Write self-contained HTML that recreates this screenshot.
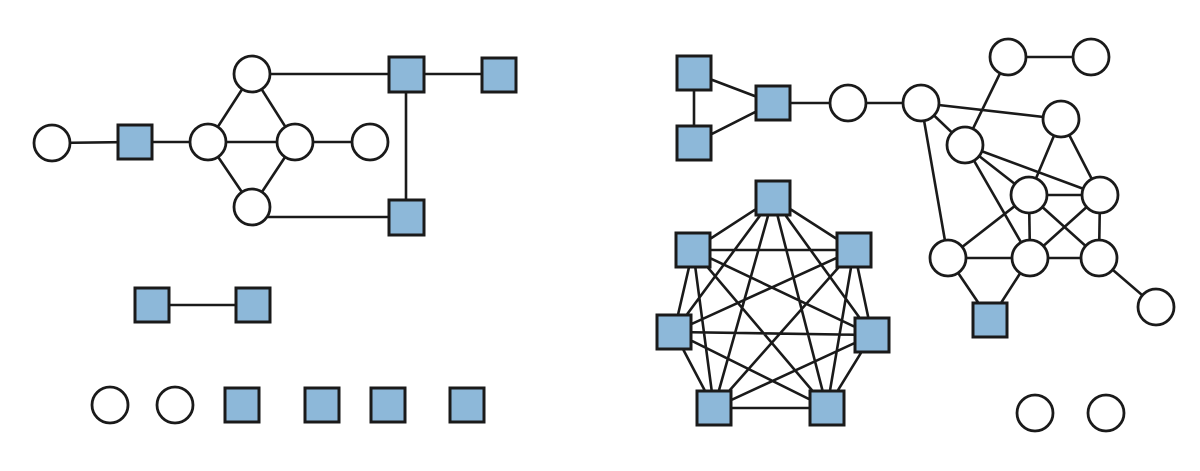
<!DOCTYPE html>
<html><head><style>html,body{margin:0;padding:0;background:#fff}svg{display:block}</style></head><body>
<svg width="1200" height="471" viewBox="0 0 1200 471" xmlns="http://www.w3.org/2000/svg">
<g stroke="#1a1a1a" stroke-width="2.6" fill="none">
<line x1="52" y1="143" x2="135" y2="142"/><line x1="135" y1="142" x2="208" y2="142"/>
<line x1="208" y1="142" x2="252" y2="74"/><line x1="208" y1="142" x2="252" y2="207"/>
<line x1="208" y1="142" x2="295" y2="142"/><line x1="252" y1="74" x2="295" y2="142"/>
<line x1="252" y1="207" x2="295" y2="142"/><line x1="295" y1="142" x2="370" y2="142"/>
<line x1="252" y1="74" x2="406" y2="74"/><line x1="406" y1="74" x2="499" y2="74"/>
<line x1="406" y1="74" x2="406" y2="217"/><line x1="262" y1="217" x2="406" y2="217"/>
<line x1="152" y1="305" x2="253" y2="305"/>
<line x1="694" y1="73" x2="694" y2="143"/><line x1="694" y1="73" x2="773" y2="103"/>
<line x1="694" y1="143" x2="773" y2="103"/><line x1="773" y1="103" x2="921" y2="103"/>
<line x1="1008" y1="57" x2="1091" y2="57"/>
<line x1="921" y1="103" x2="1061" y2="119"/><line x1="921" y1="103" x2="965" y2="145"/>
<line x1="921" y1="103" x2="948" y2="258"/><line x1="1008" y1="57" x2="965" y2="145"/>
<line x1="965" y1="145" x2="1029" y2="195"/><line x1="965" y1="145" x2="1100" y2="195"/>
<line x1="965" y1="145" x2="1030" y2="258"/><line x1="1061" y1="119" x2="1029" y2="195"/>
<line x1="1061" y1="119" x2="1100" y2="195"/><line x1="1029" y1="195" x2="1100" y2="195"/>
<line x1="1029" y1="195" x2="948" y2="258"/><line x1="1029" y1="195" x2="1030" y2="258"/>
<line x1="1029" y1="195" x2="1099" y2="258"/><line x1="1100" y1="195" x2="1030" y2="258"/>
<line x1="1100" y1="195" x2="1099" y2="258"/><line x1="948" y1="258" x2="1030" y2="258"/>
<line x1="1030" y1="258" x2="1099" y2="258"/><line x1="1099" y1="258" x2="1156" y2="307"/>
<line x1="948" y1="258" x2="990" y2="320"/><line x1="1030" y1="258" x2="990" y2="320"/>
<path d="M773 198L693 250M773 198L854 250M773 198L674 332M773 198L872 335M773 198L714 408M773 198L827 408
M693 250L854 250M693 250L674 332M693 250L872 335M693 250L714 408M693 250L827 408
M854 250L674 332M854 250L872 335M854 250L714 408M854 250L827 408
M674 332L872 335M674 332L714 408M674 332L827 408
M872 335L714 408M872 335L827 408M714 408L827 408"/>
</g>
<g stroke="#1a1a1a" stroke-width="2.8" fill="#fff">
<circle cx="52" cy="143" r="18"/><circle cx="208" cy="142" r="18"/><circle cx="252" cy="74" r="18"/>
<circle cx="252" cy="207" r="18"/><circle cx="295" cy="142" r="18"/><circle cx="370" cy="142" r="18"/>
<circle cx="110" cy="405" r="18"/><circle cx="175" cy="405" r="18"/>
<circle cx="848" cy="103" r="18"/><circle cx="921" cy="103" r="18"/><circle cx="1008" cy="57" r="18"/>
<circle cx="1091" cy="57" r="18"/><circle cx="1061" cy="119" r="18"/><circle cx="965" cy="145" r="18"/>
<circle cx="1029" cy="195" r="18"/><circle cx="1100" cy="195" r="18"/><circle cx="948" cy="258" r="18"/>
<circle cx="1030" cy="258" r="18"/><circle cx="1099" cy="258" r="18"/><circle cx="1156" cy="307" r="18"/>
<circle cx="1035" cy="413" r="18"/><circle cx="1106" cy="413" r="18"/>
</g>
<g stroke="#1a1a1a" stroke-width="3" fill="#8db8d9">
<rect x="118" y="125" width="34" height="34"/><rect x="389" y="57" width="35" height="35"/>
<rect x="482" y="58" width="34" height="34"/><rect x="389" y="200" width="35" height="35"/>
<rect x="135" y="288" width="34" height="34"/><rect x="236" y="288" width="34" height="34"/>
<rect x="225" y="388" width="34" height="34"/><rect x="305" y="388" width="34" height="34"/>
<rect x="371" y="388" width="34" height="34"/><rect x="450" y="388" width="34" height="34"/>
<rect x="677" y="56" width="34" height="34"/><rect x="677" y="126" width="34" height="34"/>
<rect x="756" y="86" width="34" height="34"/><rect x="973" y="303" width="34" height="34"/>
<rect x="756" y="181" width="34" height="34"/><rect x="676" y="233" width="34" height="34"/>
<rect x="837" y="233" width="34" height="34"/><rect x="657" y="315" width="34" height="34"/>
<rect x="855" y="318" width="34" height="34"/><rect x="697" y="391" width="34" height="34"/>
<rect x="810" y="391" width="34" height="34"/>
</g>
</svg>
</body></html>
